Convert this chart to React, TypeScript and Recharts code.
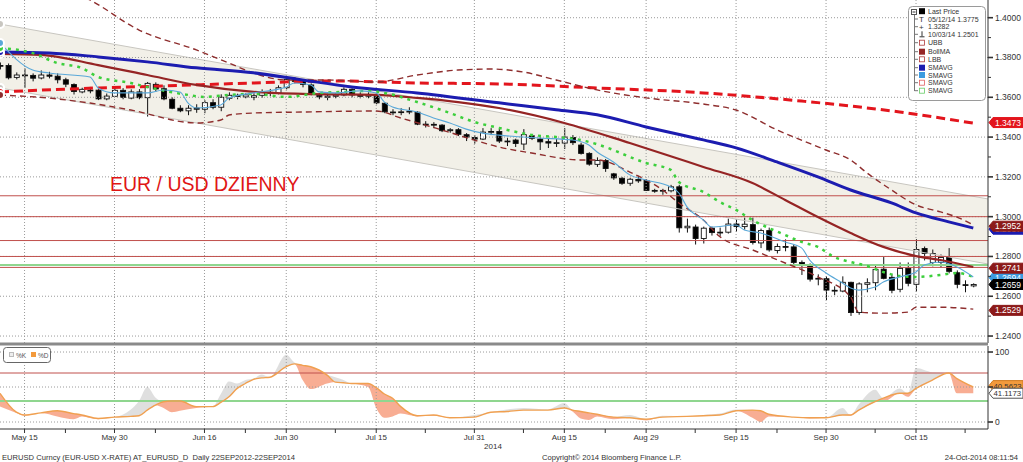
import React from "react";
import { ComposedChart, Bar, Line, Area, XAxis, YAxis, ReferenceLine } from "recharts";

const FONT = '"Liberation Sans", Arial, Helvetica, sans-serif';

// ---------- X axis (trading-day index, 12 May 2014 .. 24 Oct 2014) ----------
const xDomain: [number, number] = [0, 120.8];
const tickIdx = [3, 14, 25, 35, 46, 58, 69, 79, 90, 101, 112];
const tickLabels = ["May 15", "May 30", "Jun 16", "Jun 30", "Jul 15", "Jul 31", "Aug 15", "Aug 29", "Sep 15", "Sep 30", "Oct 15"];
const minorTickIdx = [8, 19, 30, 41, 52, 64, 74, 85, 95, 107, 118];

// ---------- OHLC ----------
const opens = [
  1.3760, 1.3760, 1.3700, 1.3712, 1.3710, 1.3697, 1.3712, 1.3706, 1.3688, 1.3664,
  1.3627, 1.3633, 1.3636, 1.3592, 1.3605, 1.3635, 1.3596, 1.3627, 1.3598, 1.3665,
  1.3643, 1.3590, 1.3545, 1.3532, 1.3546, 1.3540, 1.3573, 1.3550, 1.3595, 1.3610,
  1.3602, 1.3600, 1.3610, 1.3625, 1.3620, 1.3648, 1.3687, 1.3680, 1.3662, 1.3610,
  1.3600, 1.3605, 1.3612, 1.3640, 1.3610, 1.3605, 1.3612, 1.3570, 1.3526, 1.3525,
  1.3526, 1.3525, 1.3465, 1.3464, 1.3460, 1.3432, 1.3437, 1.3412, 1.3398, 1.3390,
  1.3425, 1.3428, 1.3380, 1.3385, 1.3365, 1.3406, 1.3390, 1.3377, 1.3370, 1.3370,
  1.3398, 1.3360, 1.3318, 1.3263, 1.3282, 1.3215, 1.3193, 1.3168, 1.3187, 1.3182,
  1.3132, 1.3130, 1.3130, 1.3150, 1.2944, 1.2948, 1.2890, 1.2942, 1.2918, 1.2922,
  1.2963, 1.2950, 1.2960, 1.2868, 1.2930, 1.2830, 1.2850, 1.2848, 1.2770, 1.2755,
  1.2686, 1.2688, 1.2630, 1.2626, 1.2670, 1.2518, 1.2660, 1.2668, 1.2736, 1.2695,
  1.2635, 1.2740, 1.2660, 1.2840, 1.2770, 1.2770, 1.2800, 1.2718, 1.2658, 1.2652,
];
const highs = [
  1.3775, 1.3770, 1.3725, 1.3745, 1.3720, 1.3735, 1.3728, 1.3720, 1.3698, 1.3670,
  1.3648, 1.3652, 1.3644, 1.3619, 1.3652, 1.3646, 1.3640, 1.3641, 1.3677, 1.3675,
  1.3660, 1.3600, 1.3560, 1.3560, 1.3565, 1.3585, 1.3590, 1.3615, 1.3625, 1.3618,
  1.3620, 1.3620, 1.3640, 1.3642, 1.3660, 1.3700, 1.3701, 1.3690, 1.3670, 1.3620,
  1.3618, 1.3620, 1.3650, 1.3645, 1.3625, 1.3625, 1.3618, 1.3575, 1.3540, 1.3545,
  1.3550, 1.3530, 1.3480, 1.3475, 1.3465, 1.3445, 1.3445, 1.3420, 1.3410, 1.3445,
  1.3445, 1.3440, 1.3395, 1.3392, 1.3440, 1.3415, 1.3400, 1.3395, 1.3390, 1.3445,
  1.3410, 1.3372, 1.3324, 1.3298, 1.3290, 1.3220, 1.3200, 1.3195, 1.3205, 1.3188,
  1.3140, 1.3140, 1.3160, 1.3160, 1.2990, 1.2960, 1.2950, 1.2950, 1.2945, 1.2990,
  1.2985, 1.2995, 1.2995, 1.2940, 1.2945, 1.2865, 1.2886, 1.2860, 1.2780, 1.2765,
  1.2710, 1.2700, 1.2650, 1.2700, 1.2673, 1.2670, 1.2690, 1.2760, 1.2797, 1.2710,
  1.2770, 1.2770, 1.2887, 1.2850, 1.2835, 1.2810, 1.2842, 1.2730, 1.2680, 1.2665,
];
const lows = [
  1.3740, 1.3690, 1.3690, 1.3648, 1.3680, 1.3690, 1.3695, 1.3670, 1.3651, 1.3614,
  1.3620, 1.3620, 1.3586, 1.3585, 1.3602, 1.3590, 1.3590, 1.3590, 1.3503, 1.3627,
  1.3585, 1.3540, 1.3525, 1.3510, 1.3522, 1.3520, 1.3540, 1.3530, 1.3585, 1.3590,
  1.3595, 1.3585, 1.3598, 1.3605, 1.3615, 1.3640, 1.3670, 1.3650, 1.3610, 1.3590,
  1.3585, 1.3595, 1.3605, 1.3600, 1.3595, 1.3595, 1.3565, 1.3520, 1.3510, 1.3510,
  1.3515, 1.3460, 1.3448, 1.3445, 1.3425, 1.3422, 1.3405, 1.3380, 1.3367, 1.3385,
  1.3410, 1.3370, 1.3355, 1.3350, 1.3335, 1.3385, 1.3335, 1.3345, 1.3350, 1.3340,
  1.3360, 1.3312, 1.3256, 1.3250, 1.3225, 1.3185, 1.3160, 1.3155, 1.3170, 1.3130,
  1.3120, 1.3110, 1.3122, 1.2920, 1.2920, 1.2860, 1.2865, 1.2905, 1.2903, 1.2915,
  1.2925, 1.2935, 1.2860, 1.2842, 1.2824, 1.2815, 1.2826, 1.2760, 1.2707, 1.2674,
  1.2655, 1.2581, 1.2605, 1.2620, 1.2501, 1.2507, 1.2620, 1.2630, 1.2685, 1.2615,
  1.2620, 1.2650, 1.2624, 1.2780, 1.2750, 1.2745, 1.2715, 1.2640, 1.2620, 1.2645,
];
const closes = [
  1.3758, 1.3698, 1.3712, 1.3710, 1.3696, 1.3712, 1.3706, 1.3688, 1.3666, 1.3629,
  1.3640, 1.3636, 1.3592, 1.3606, 1.3635, 1.3600, 1.3627, 1.3598, 1.3670, 1.3642,
  1.3592, 1.3545, 1.3532, 1.3545, 1.3540, 1.3573, 1.3550, 1.3600, 1.3610, 1.3604,
  1.3612, 1.3608, 1.3625, 1.3620, 1.3648, 1.3690, 1.3680, 1.3665, 1.3618, 1.3602,
  1.3606, 1.3611, 1.3640, 1.3612, 1.3605, 1.3612, 1.3572, 1.3527, 1.3523, 1.3527,
  1.3530, 1.3465, 1.3463, 1.3460, 1.3432, 1.3437, 1.3414, 1.3400, 1.3390, 1.3425,
  1.3428, 1.3380, 1.3376, 1.3368, 1.3412, 1.3394, 1.3376, 1.3370, 1.3372, 1.3400,
  1.3372, 1.3318, 1.3264, 1.3282, 1.3242, 1.3195, 1.3168, 1.3188, 1.3180, 1.3132,
  1.3130, 1.3132, 1.3150, 1.2944, 1.2952, 1.2890, 1.2942, 1.2920, 1.2922, 1.2963,
  1.2950, 1.2962, 1.2870, 1.2930, 1.2833, 1.2850, 1.2848, 1.2770, 1.2755, 1.2686,
  1.2690, 1.2631, 1.2626, 1.2670, 1.2518, 1.2662, 1.2668, 1.2735, 1.2690, 1.2630,
  1.2740, 1.2665, 1.2835, 1.2815, 1.2815, 1.2795, 1.2725, 1.2660, 1.2655, 1.2659,
];

// ---------- studies as [day index, value] ----------
const smaBlue: [number, number][] = [
  [0, 1.3828], [6, 1.3823], [12, 1.3803], [18, 1.3778], [24, 1.3748], [31, 1.3723], [37, 1.3687],
  [43, 1.3652], [51, 1.3622], [61, 1.3572], [68, 1.3537], [73, 1.3512], [79, 1.3451], [86, 1.3386],
  [90, 1.3346], [95, 1.3275], [100, 1.3200], [104, 1.3134], [109, 1.3069], [112, 1.3019], [116, 1.2974], [119, 1.2943],
];
const bollMA: [number, number][] = [
  [0, 1.3818], [5, 1.3813], [12, 1.3762], [18, 1.3712], [24, 1.3662], [31, 1.3627], [37, 1.3617],
  [46, 1.3612], [51, 1.3597], [56, 1.3576], [61, 1.3546], [69, 1.3471], [77, 1.3370], [86, 1.3250],
  [92, 1.3169], [96, 1.3084], [100, 1.2998], [104, 1.2918], [108, 1.2848], [112, 1.2802], [115, 1.2782], [119, 1.2747],
];
const upperBand: [number, number][] = [
  [0, 1.4240], [11, 1.4089], [17, 1.3938], [24, 1.3838], [28, 1.3772], [31, 1.3722], [35, 1.3687],
  [40, 1.3687], [46, 1.3677], [51, 1.3712], [56, 1.3737], [60, 1.3742], [64, 1.3727], [68, 1.3687],
  [73, 1.3637], [79, 1.3597], [86, 1.3566], [90, 1.3536], [95, 1.3436], [101, 1.3335], [104, 1.3285],
  [106, 1.3220], [109, 1.3134], [112, 1.3059], [115, 1.3024], [117, 1.2998], [119, 1.2958],
];
const lowerBand: [number, number][] = [
  [0, 1.3611], [6, 1.3596], [11, 1.3571], [16, 1.3536], [24, 1.3471], [27, 1.3486], [28, 1.3511],
  [31, 1.3521], [37, 1.3526], [46, 1.3531], [49, 1.3496], [54, 1.3436], [58, 1.3385], [61, 1.3350],
  [65, 1.3320], [71, 1.3285], [73, 1.3285], [77, 1.3224], [81, 1.3134], [83, 1.3069], [86, 1.2983],
  [88, 1.2900], [92, 1.2833], [96, 1.2767], [100, 1.2697], [104, 1.2596], [105, 1.2520], [108, 1.2515],
  [111, 1.2520], [112, 1.2545], [115, 1.2545], [119, 1.2535],
];
const sma200: [number, number][] = [
  [0, 1.3627], [12, 1.3647], [20, 1.3657], [31, 1.3672], [41, 1.3682], [51, 1.3672], [61, 1.3667],
  [73, 1.3647], [86, 1.3622], [98, 1.3581], [104, 1.3556], [110, 1.3526], [115, 1.3496], [119, 1.3470],
];
const smaGreen: [number, number][] = [
  [0, 1.3848], [4, 1.3822], [7, 1.3772], [10, 1.3747], [12, 1.3702], [16, 1.3672], [18, 1.3652],
  [23, 1.3612], [25, 1.3602], [28, 1.3612], [31, 1.3617], [35, 1.3602], [39, 1.3622], [42, 1.3627],
  [45, 1.3632], [47, 1.3622], [51, 1.3576], [55, 1.3521], [58, 1.3476], [61, 1.3446], [65, 1.3411],
  [68, 1.3400], [71, 1.3385], [75, 1.3335], [77, 1.3300], [79, 1.3270], [82, 1.3235], [83, 1.3174],
  [86, 1.3124], [88, 1.3074], [90, 1.3034], [92, 1.2983], [94, 1.2943], [96, 1.2908], [98, 1.2873],
  [100, 1.2848], [102, 1.2797], [104, 1.2772], [106, 1.2752], [108, 1.2722], [110, 1.2702],
  [112, 1.2697], [115, 1.2707], [117, 1.2717], [119, 1.2697],
];
const smaLightBlue: [number, number][] = [
  [0, 1.3873], [4, 1.3737], [6, 1.3722], [11, 1.3702], [12, 1.3647], [14, 1.3622], [16, 1.3622],
  [18, 1.3622], [20, 1.3637], [22, 1.3627], [23, 1.3571], [24, 1.3546], [27, 1.3561], [28, 1.3597],
  [31, 1.3622], [35, 1.3652], [36, 1.3672], [38, 1.3662], [39, 1.3627], [41, 1.3622], [44, 1.3632],
  [46, 1.3622], [47, 1.3576], [48, 1.3551], [51, 1.3526], [53, 1.3496], [55, 1.3471], [57, 1.3440],
  [59, 1.3420], [61, 1.3410], [66, 1.3395], [70, 1.3385], [72, 1.3360], [73, 1.3325], [75, 1.3275],
  [77, 1.3210], [79, 1.3184], [82, 1.3149], [83, 1.3119], [84, 1.3049], [86, 1.2983], [87, 1.2948],
  [90, 1.2958], [91, 1.2933], [93, 1.2918], [96, 1.2873], [98, 1.2843], [99, 1.2782], [101, 1.2717],
  [103, 1.2667], [104, 1.2641], [105, 1.2631], [107, 1.2646], [108, 1.2672], [110, 1.2697],
  [112, 1.2722], [113, 1.2757], [115, 1.2772], [117, 1.2747], [119, 1.2697],
];
// regression channel end points
const channelUpper: [number, number][] = [[0, 1.3968], [120.8, 1.3089]];
const channelLower: [number, number][] = [[0, 1.3647], [120.8, 1.2762]];
// horizontal levels
const redLevels = [1.3105, 1.3, 1.288, 1.28, 1.2745];
const greenLevels = [1.2757];

// price axis
const priceDomain: [number, number] = [1.2365, 1.4089];
const priceMajorTicks = [1.24, 1.26, 1.28, 1.3, 1.32, 1.34, 1.36, 1.38, 1.4];
const priceMinorTicks = [1.25, 1.27, 1.29, 1.31, 1.33, 1.35, 1.37, 1.39];

// last-value tags on the price axis (drawn bottom to top)
const priceTagValues = [1.3473, 1.2937, 1.2952, 1.2694, 1.2741, 1.2659, 1.2529];
const priceTagColors = ["#e3151d", "#1c1cb0", "#8c1a1a", "#3b9be0", "#8c1a1a", "#000000", "#8c1a1a"];

// stochastic: [day index, %K, %D]
const stoch: [number, number, number][] = [
  [0, 22, 41], [2, 13, 14], [3, 9, 10], [5, 13, 13], [7, 8, 16], [9, 4, 12], [10, 8, 10], [12, 4, 5],
  [14, 7, 7], [16, 18, 8], [17, 30, 9], [18, 50, 17], [19, 35, 24], [20, 20, 29], [21, 14, 30],
  [22, 16, 30], [24, 20, 22], [26, 22, 22], [27, 40, 28], [28, 58, 36], [29, 55, 48], [30, 60, 55],
  [31, 62, 61], [32, 68, 63], [33, 64, 64], [35, 96, 79], [36, 85, 83], [37, 60, 81], [38, 47, 79],
  [40, 55, 67], [41, 64, 57], [42, 60, 56], [43, 55, 55], [45, 50, 55], [46, 20, 49], [47, 6, 40],
  [48, 8, 34], [49, 12, 22], [51, 8, 9], [53, 9, 10], [55, 6, 6], [58, 10, 7], [60, 14, 14],
  [62, 18, 15], [64, 20, 17], [67, 18, 17], [69, 27, 20], [70, 15, 17], [71, 5, 15], [72, 3, 13],
  [73, 8, 11], [75, 4, 7], [77, 10, 6], [79, 2, 4], [81, 9, 7], [84, 8, 8], [86, 10, 9], [88, 12, 10],
  [90, 18, 16], [92, 6, 17], [93, 0, 16], [94, 8, 11], [97, 7, 7], [99, 5, 6], [101, 6, 6],
  [103, 20, 10], [104, 9, 10], [105, 25, 17], [107, 46, 29], [108, 29, 34], [110, 48, 41],
  [111, 36, 41], [112, 77, 48], [114, 71, 60], [116, 70, 70], [117, 41, 62], [119, 41, 50],
];
const stochDomain: [number, number] = [-10, 108.6];
const stochTicks = [0, 50, 100];
const stochLevels = { high: 70, low: 30 };
const stochTagValues = [40.5623, 41.1173];

const legendRows = ["Last Price", "05/12/14 1.3775", "1.3282", "10/03/14 1.2501", "UBB", "BollMA", "LBB", "SMAVG", "SMAVG", "SMAVG", "SMAVG"];
const titleText = "EUR / USD DZIENNY";
const footerLeft = "EURUSD Curncy (EUR-USD X-RATE) AT_EURUSD_D  Daily 22SEP2012-22SEP2014";
const footerMid = "Copyright\u00a9 2014 Bloomberg Finance L.P.";
const footerRight = "24-Oct-2014 08:11:54";
const yearLabel = "2014";

// ---------- tables ----------
const rows: any[] = closes.map((c, i) => ({
  i, o: opens[i], h: highs[i], l: lows[i], c, range: [lows[i], highs[i]],
}));
rows.push({ i: xDomain[1] });
const rowAt = (idx: number) => rows.find((r) => Math.abs(r.i - idx) < 1e-9);
const put = (key: string, pts: [number, number][]) => pts.forEach(([idx, v]) => { rowAt(idx)[key] = v; });
put("blue", smaBlue);
put("boll", bollMA);
put("ubb", upperBand);
put("lbb", lowerBand);
put("s200", sma200);
put("green", smaGreen);
put("lblue", smaLightBlue);
put("chHi", channelUpper);
put("chLo", channelLower);
channelUpper.forEach(([idx], k) => { rowAt(idx).ch = [channelLower[k][1], channelUpper[k][1]]; });

const stochRows = stoch.map(([i, k, d]) => ({
  i, k, d, up: [d, Math.max(k, d)], dn: [Math.min(k, d), d],
}));

// ---------- renderers ----------
const Candle = (props: any) => {
  const { x, y, width, height, payload } = props;
  if (!payload || payload.h == null || height == null) return null;
  const { o, c, h, l } = payload;
  const span = h - l || 1e-9;
  const px = (v: number) => y + ((h - v) / span) * height;
  const cx = x + width / 2;
  const top = px(Math.max(o, c));
  const bot = px(Math.min(o, c));
  const up = c >= o;
  return (
    <g>
      <line x1={cx} x2={cx} y1={y} y2={y + height} stroke="#111" strokeWidth={1} />
      <rect x={x} y={top} width={width} height={Math.max(0.8, bot - top)} fill={up ? "#ffffff" : "#000000"} stroke="#111" strokeWidth={0.9} />
    </g>
  );
};

const PriceTick = (props: any) => {
  const { x, y, payload } = props;
  const v = payload.value as number;
  const major = priceMajorTicks.some((t) => Math.abs(t - v) < 1e-7);
  return (
    <g>
      <line x1={x} x2={x + (major ? 5 : 3)} y1={y} y2={y} stroke="#333" strokeWidth={major ? 1.6 : 1} />
      {major && (
        <text x={x + 7} y={y + 3} fontSize={8.5} fill="#333" fontFamily={FONT}>{v.toFixed(4)}</text>
      )}
    </g>
  );
};

const StochTick = (props: any) => {
  const { x, y, payload } = props;
  const v = payload.value as number;
  return (
    <g>
      <line x1={x} x2={x + 5} y1={y} y2={y} stroke="#333" strokeWidth={1.6} />
      {v !== 50 && (
        <text x={x + 7} y={y + 3} fontSize={8.5} fill="#333" fontFamily={FONT}>{String(v)}</text>
      )}
    </g>
  );
};

const DateTick = (props: any) => {
  const { x, y, payload } = props;
  const k = tickIdx.indexOf(payload.value);
  return (
    <g>
      <line x1={x} x2={x} y1={y} y2={y + 4} stroke="#333" />
      {k >= 0 && (
        <text x={x} y={y + 11} fontSize={8} fill="#333" textAnchor="middle" fontFamily={FONT}>{tickLabels[k]}</text>
      )}
    </g>
  );
};

const makeTag = (text: string, bg: string, fg: string, border: string, dy = 0, fs = 8.5, tx = 6) => (props: any) => {
  const vb = props.viewBox || {};
  const x0 = (vb.x || 0) + (vb.width || 0) + 1;
  const cy = (vb.y || 0) + dy;
  const d = `M${x0} ${cy} L${x0 + 4} ${cy - 5} L${x0 + 34} ${cy - 5} L${x0 + 34} ${cy + 5} L${x0 + 4} ${cy + 5} Z`;
  return (
    <g>
      <path d={d} fill={bg} stroke={border} strokeWidth={1} />
      <text x={x0 + tx} y={cy + 3.1} fontSize={fs} fill={fg} fontFamily={FONT}>{text}</text>
    </g>
  );
};

const GRID = "#9a9a9a";

export default function App() {
  return (
    <div style={{ position: "absolute", left: 0, top: 0, width: 1023, height: 462, background: "#fff", overflow: "hidden" }}>
      <div style={{ position: "absolute", left: 0, top: 0 }}>
        <ComposedChart width={1023} height={343} data={rows} margin={{ top: 0, right: 0, bottom: 0, left: 0 }}>
          <XAxis type="number" dataKey="i" domain={xDomain} allowDataOverflow hide />
          <YAxis
            orientation="right" width={35} type="number" domain={priceDomain} allowDataOverflow
            ticks={[...priceMinorTicks, ...priceMajorTicks]} interval={0} tick={<PriceTick />}
            tickLine={false} tickSize={0} tickMargin={0} axisLine={{ stroke: "#333" }}
          />
          <Area dataKey="ch" type="linear" stroke="none" fill="#f2f0e8" fillOpacity={1} connectNulls isAnimationActive={false} />
          <Line dataKey="chHi" type="linear" stroke="#c8c6c0" strokeWidth={1} dot={false} connectNulls isAnimationActive={false} />
          <Line dataKey="chLo" type="linear" stroke="#c8c6c0" strokeWidth={1} dot={false} connectNulls isAnimationActive={false} />
          {priceMajorTicks.map((v) => (
            <ReferenceLine key={"h" + v} y={v} stroke={GRID} strokeDasharray="1 2" />
          ))}
          {tickIdx.map((v) => (
            <ReferenceLine key={"v" + v} x={v} stroke={GRID} strokeDasharray="1 2" />
          ))}
          {redLevels.map((v) => (
            <ReferenceLine key={"r" + v} y={v} stroke="#c0504d" strokeWidth={1} />
          ))}
          {greenLevels.map((v) => (
            <ReferenceLine key={"g" + v} y={v} stroke="#8fd68f" strokeWidth={2} />
          ))}
          <Bar dataKey="range" barSize={5} shape={<Candle />} isAnimationActive={false} />
          <Line dataKey="s200" type="monotone" stroke="#e3151d" strokeWidth={3} strokeDasharray="9 5" dot={false} connectNulls isAnimationActive={false} />
          <Line dataKey="ubb" type="monotone" stroke="#8e2d2d" strokeWidth={1.4} strokeDasharray="6 4" dot={false} connectNulls isAnimationActive={false} />
          <Line dataKey="lbb" type="monotone" stroke="#8e2d2d" strokeWidth={1.4} strokeDasharray="6 4" dot={false} connectNulls isAnimationActive={false} />
          <Line dataKey="boll" type="monotone" stroke="#952424" strokeWidth={2.2} dot={false} connectNulls isAnimationActive={false} />
          <Line dataKey="blue" type="monotone" stroke="#1c1cb0" strokeWidth={3} dot={false} connectNulls isAnimationActive={false} />
          <Line dataKey="green" type="monotone" stroke="#3ccf3c" strokeWidth={2.5} strokeDasharray="3 5" dot={false} connectNulls isAnimationActive={false} />
          <Line dataKey="lblue" type="monotone" stroke="#5aa8d8" strokeWidth={1.1} dot={false} connectNulls isAnimationActive={false} />
          {priceTagValues.map((v, k) => (
            <ReferenceLine
              key={"t" + k} y={v} stroke="none"
              label={makeTag(v.toFixed(4), priceTagColors[k], "#ffffff", priceTagColors[k])}
            />
          ))}
        </ComposedChart>
      </div>

      <div style={{ position: "absolute", left: 0, top: 346 }}>
        <ComposedChart width={1023} height={116} data={stochRows} margin={{ top: 0, right: 0, bottom: 0, left: 0 }}>
          <XAxis
            type="number" dataKey="i" domain={xDomain} allowDataOverflow
            ticks={[...tickIdx, ...minorTickIdx].sort((a, b) => a - b)} interval={0}
            tick={<DateTick />} tickLine={false} tickSize={0} tickMargin={0} height={33}
            axisLine={{ stroke: "#333" }}
          />
          <YAxis
            orientation="right" width={35} type="number" domain={stochDomain} allowDataOverflow
            ticks={stochTicks} interval={0} tick={<StochTick />} tickLine={false} tickSize={0} tickMargin={0}
            axisLine={{ stroke: "#333" }}
          />
          {stochTicks.map((v) => (
            <ReferenceLine key={"sh" + v} y={v} stroke={GRID} strokeDasharray="1 2" />
          ))}
          {tickIdx.map((v) => (
            <ReferenceLine key={"sv" + v} x={v} stroke={GRID} strokeDasharray="1 2" />
          ))}
          <Area dataKey="up" type="monotone" stroke="none" fill="#dcdcdc" fillOpacity={0.9} isAnimationActive={false} />
          <Area dataKey="dn" type="monotone" stroke="none" fill="#f7a487" fillOpacity={0.9} isAnimationActive={false} />
          <ReferenceLine y={stochLevels.high} stroke="#c0504d" strokeWidth={1} />
          <ReferenceLine y={stochLevels.low} stroke="#8fd68f" strokeWidth={2} />
          <Line dataKey="d" type="monotone" stroke="#f0a050" strokeWidth={1.4} dot={false} isAnimationActive={false} />
          <ReferenceLine y={stochTagValues[0]} stroke="none" label={makeTag(stochTagValues[0].toFixed(4), "#f39a3c", "#333333", "#d07a20", -8, 7.8, 4.5)} />
          <ReferenceLine y={stochTagValues[1]} stroke="none" label={makeTag(stochTagValues[1].toFixed(4), "#ffffff", "#333333", "#555555", 0, 7.8, 4.5)} />
        </ComposedChart>
      </div>

      <svg width={1023} height={462} style={{ position: "absolute", left: 0, top: 0, pointerEvents: "none" }} fontFamily={FONT}>
        <rect x={0} y={342.5} width={988} height={3} fill="#8a8a8a" />
        <text x={110} y={191} fontSize={19.5} fill="#e01515">{titleText}</text>

        {/* main legend */}
        <rect x={908.5} y={6.5} width={77} height={94} rx={4} fill="#ffffff" stroke="#9a9a9a" />
        <line x1={914.5} y1={15} x2={914.5} y2={91} stroke="#777" />
        <rect x={911.5} y={9.5} width={5} height={5} fill="#fff" stroke="#555" />
        <line x1={912.5} x2={915.5} y1={12} y2={12} stroke="#333" />
        {legendRows.map((t, k) => {
          const base = [14.2, 21.5, 29.2, 36.8, 45.2, 54.2, 61.8, 70.2, 77.5, 85.2, 93.2][k];
          const cy = base - 2.5;
          let icon: any = null;
          if (k === 0) icon = <rect x={919} y={cy - 3.5} width={6} height={6} fill="#000" />;
          else if (k === 1) icon = <text x={919} y={base + 0.5} fontSize={8} fill="#333">T</text>;
          else if (k === 2) icon = <text x={919} y={base + 0.5} fontSize={8} fill="#333">+</text>;
          else if (k === 3) icon = (
            <g stroke="#333"><line x1={922} x2={922} y1={cy - 3} y2={cy + 2} /><line x1={919.5} x2={924.5} y1={cy + 2.5} y2={cy + 2.5} /></g>
          );
          else if (k === 4 || k === 6) icon = <rect x={919.5} y={cy - 2.5} width={5} height={5} fill="#fff" stroke="#b03a3a" strokeWidth={0.8} />;
          else if (k === 5) icon = <rect x={919} y={cy - 3} width={6} height={6} fill="#962626" />;
          else if (k === 7) icon = <rect x={919} y={cy - 3} width={6} height={6} fill="#1c1cb0" />;
          else if (k === 8) icon = <rect x={919} y={cy - 3} width={6} height={6} fill="#3b9be0" />;
          else if (k === 9) icon = <rect x={919.5} y={cy - 2.5} width={5} height={5} fill="#fff" stroke="#e06060" strokeWidth={0.8} />;
          else icon = <rect x={919.5} y={cy - 2.5} width={5} height={5} fill="#fff" stroke="#66cc66" strokeWidth={0.8} />;
          return (
            <g key={"lg" + k}>
              {k > 0 && <line x1={914.5} x2={918} y1={cy} y2={cy} stroke="#777" />}
              {icon}
              <text x={928} y={base} fontSize={7} fill="#333">{t}</text>
            </g>
          );
        })}

        {/* lower legend */}
        <rect x={3.5} y={347.5} width={47} height={15} rx={3} fill="#fff" stroke="#666" />
        <rect x={9.5} y={352.5} width={4} height={4} fill="#eeeeee" stroke="#bbbbbb" />
        <text x={16} y={357.8} fontSize={6.5} fill="#555">%K</text>
        <rect x={31} y={352} width={5} height={5} fill="#f39a3c" />
        <text x={38} y={357.8} fontSize={6.5} fill="#555">%D</text>

        <text x={493} y={449} fontSize={8} fill="#333" textAnchor="middle">{yearLabel}</text>
        <text x={2} y={460} fontSize={7.6} fill="#333" style={{ whiteSpace: "pre" }}>{footerLeft}</text>
        <text x={542} y={460} fontSize={7.6} fill="#333">{footerMid}</text>
        <text x={1018} y={460} fontSize={7.6} fill="#333" textAnchor="end">{footerRight}</text>
      </svg>
    </div>
  );
}
